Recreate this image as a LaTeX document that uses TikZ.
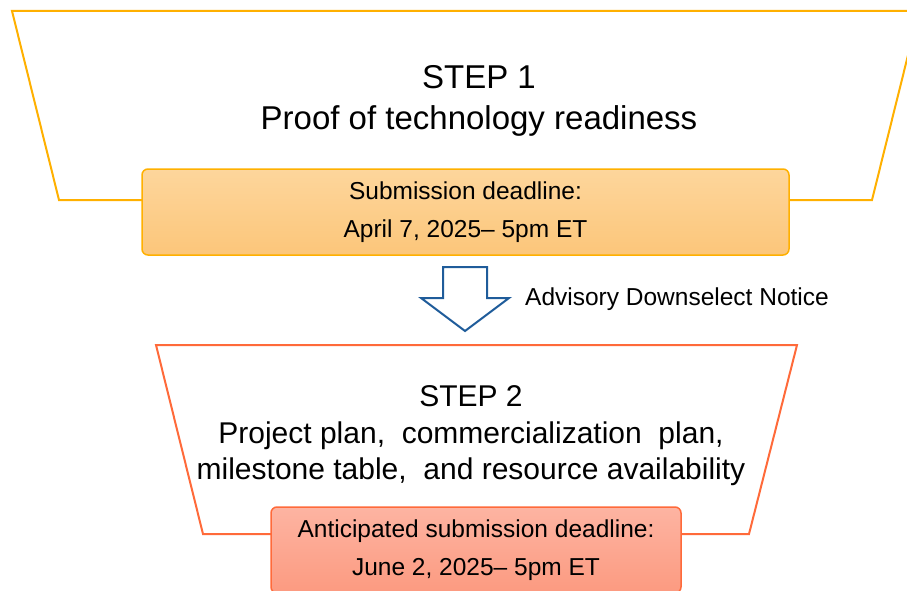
\documentclass[tikz,border=0pt]{standalone}
\usepackage{fontspec}
\setmainfont{Liberation Sans}
\usetikzlibrary{positioning}
\definecolor{amber}{HTML}{FFB000}
\definecolor{amberlight}{HTML}{FDD69C}
\definecolor{amberdark}{HTML}{FCC67A}
\definecolor{coral}{HTML}{FF6A3A}
\definecolor{corallight}{HTML}{FDB4A2}
\definecolor{coraldark}{HTML}{FC9A80}
\definecolor{notice}{HTML}{1F5C9A}
\tikzset{
    funnel/.style={line width=2pt, line join=miter},
    deadline/.style={rounded corners=6pt, line width=1.5pt, align=center, inner sep=0pt,
        font=\fontsize{24.5}{38}\selectfont},
    steptitle/.style={align=center, inner sep=0pt, font=\fontsize{33}{41}\selectfont}
}

\begin{document}
\begin{tikzpicture}[x=1pt, y=-1pt]
    \clip (0,0) rectangle (907,591);
    % step 1 funnel
    \draw[funnel, amber] (12,11) -- (919,11) -- (872,200) -- (59,200) -- cycle;
    \node[steptitle] (step1) at (479,101) {STEP 1\\Proof of technology readiness};
    \node[deadline, draw=amber, top color=amberlight, bottom color=amberdark,
        minimum width=647pt, minimum height=86pt] (due1) at (465.5,212)
        {Submission deadline:\\April 7, 2025– 5pm ET};
    % downselect arrow
    \draw[line width=2pt, notice, line join=miter]
        (443,267) -- (487,267) -- (487,298) -- (509,298) -- (465,331)
        -- (421,298) -- (443,298) -- cycle;
    \node[anchor=west, inner sep=0pt, font=\fontsize{24.5}{30}\selectfont] (notice) at (525,299)
        {Advisory Downselect Notice};
    % step 2 funnel
    \draw[funnel, coral] (156,345) -- (797,345) -- (749,534) -- (203,534) -- cycle;
    \node[steptitle, font=\fontsize{30}{36.5}\selectfont] (step2) at (471,436)
        {STEP 2\\Project plan,\ \ commercialization\ \ plan,\\milestone table,\ \ and resource availability};
    \node[deadline, draw=coral, top color=corallight, bottom color=coraldark,
        minimum width=410pt, minimum height=86pt] (due2) at (476,550)
        {Anticipated submission deadline:\\June 2, 2025– 5pm ET};
\end{tikzpicture}
\end{document}
